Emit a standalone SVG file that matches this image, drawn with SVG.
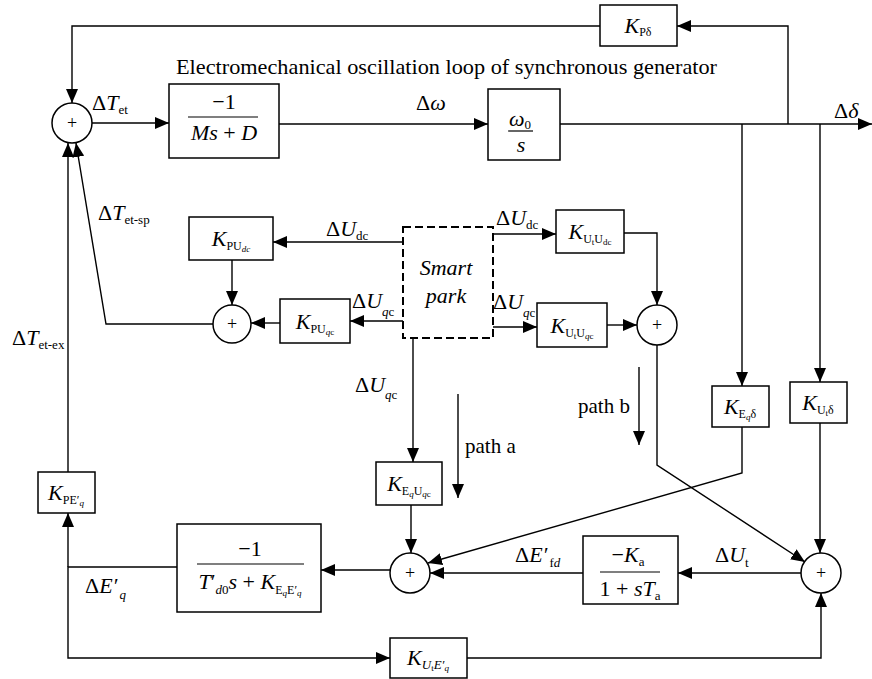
<svg xmlns="http://www.w3.org/2000/svg" width="872" height="679" viewBox="0 0 872 679">
<style>
text{font-family:"Liberation Serif","Times New Roman",serif;fill:#000;font-size:22px}
.i{font-style:italic}
.sb{font-size:13px}
.ks{font-size:12px}
.kss{font-size:9px}
.tt{font-size:21px}
.box{fill:#fff;stroke:#000;stroke-width:1.5}
.dash{fill:#fff;stroke:#000;stroke-width:2;stroke-dasharray:8 4}
.sum{fill:#fff;stroke:#000;stroke-width:1.5}
.ln{fill:none;stroke:#000;stroke-width:1.4}
.fl{stroke:#000;stroke-width:1.2}
.ar{marker-end:url(#ah)}
.plus{font-size:18px}
</style>
<defs>
<marker id="ah" viewBox="0 0 14 12" refX="14" refY="6" markerWidth="14" markerHeight="12" orient="auto" markerUnits="userSpaceOnUse"><path d="M0,0 L14,6 L0,12 z" fill="#000"/></marker>
</defs>

<g id="connectors">
<path class="ln ar" d="M92,123 H169"/>
<path class="ln ar" d="M279,124 H488"/>
<path class="ln ar" d="M560,124 H872"/>
<path class="ln ar" d="M788,124 V26 H677"/>
<path class="ln ar" d="M600,26 H72 V103"/>
<path class="ln ar" d="M742,124 V386"/>
<path class="ln ar" d="M820,124 V382"/>
<path class="ln ar" d="M403,242 H273"/>
<path class="ln ar" d="M232,260 V305"/>
<path class="ln ar" d="M403,321 H350"/>
<path class="ln ar" d="M280,323 H251"/>
<path class="ln ar" d="M213,324 H106 L76,143"/>
<path class="ln ar" d="M68,472 V143"/>
<path class="ln ar" d="M493,234 H556"/>
<path class="ln ar" d="M624,233 H657 V305"/>
<path class="ln ar" d="M493,327 H537"/>
<path class="ln ar" d="M607,325 H637"/>
<path class="ln ar" d="M657,345 V465 L805,562"/>
<path class="ln ar" d="M742,427 V473 L428,563"/>
<path class="ln ar" d="M413,338 V462"/>
<path class="ln ar" d="M411,505 V553"/>
<path class="ln ar" d="M458,394 V498"/>
<path class="ln ar" d="M639,367 V445"/>
<path class="ln ar" d="M820,423 V553"/>
<path class="ln ar" d="M801,573 H678"/>
<path class="ln ar" d="M583,573 H430"/>
<path class="ln ar" d="M390,570 H321"/>
<path class="ln ar" d="M177,567 H68 V658 H390"/>
<path class="ln ar" d="M68,567 V513"/>
<path class="ln ar" d="M467,658 H821 V593"/>
</g>

<g id="labels">
<text class="tt" x="176" y="74" textLength="541" lengthAdjust="spacingAndGlyphs">Electromechanical oscillation loop of synchronous generator</text>
<text x="92" y="110">Δ<tspan class="i">T</tspan><tspan class="sb" dy="4">et</tspan></text>
<text x="416" y="110">Δ<tspan class="i">ω</tspan></text>
<text x="834" y="118">Δ<tspan class="i">δ</tspan></text>
<text x="98" y="220">Δ<tspan class="i">T</tspan><tspan class="sb" dy="4">et-sp</tspan></text>
<text x="12" y="345">Δ<tspan class="i">T</tspan><tspan class="sb" dy="4">et-ex</tspan></text>
<text x="326" y="236">Δ<tspan class="i">U</tspan><tspan class="sb" dy="4">dc</tspan></text>
<text x="352" y="308">Δ<tspan class="i">U</tspan><tspan class="sb" dy="8"><tspan class="i">q</tspan>c</tspan></text>
<text x="496" y="225">Δ<tspan class="i">U</tspan><tspan class="sb" dy="4">dc</tspan></text>
<text x="493" y="309">Δ<tspan class="i">U</tspan><tspan class="sb" dy="8"><tspan class="i">q</tspan>c</tspan></text>
<text x="355" y="392">Δ<tspan class="i">U</tspan><tspan class="sb" dy="7"><tspan class="i">q</tspan>c</tspan></text>
<text class="tt" x="465" y="453">path a</text>
<text class="tt" x="578" y="413">path b</text>
<text x="515" y="562">Δ<tspan class="i">E′</tspan><tspan class="sb" dx="2" dy="5">f<tspan class="i">d</tspan></tspan></text>
<text x="715" y="562">Δ<tspan class="i">U</tspan><tspan class="sb" dy="5">t</tspan></text>
<text x="85" y="593">Δ<tspan class="i">E′</tspan><tspan class="sb i" dx="2" dy="6">q</tspan></text>
</g>

<g id="sum1"><circle class="sum" cx="72" cy="123" r="20"/><text class="plus" x="72" y="129" text-anchor="middle">+</text></g>

<g id="block-ms">
<rect class="box" x="169" y="84" width="110" height="74"/>
<text x="224" y="109" text-anchor="middle">−1</text>
<line class="fl" x1="188" y1="117" x2="258" y2="117"/>
<text x="224" y="140" text-anchor="middle"><tspan class="i">Ms</tspan> + <tspan class="i">D</tspan></text>
</g>

<g id="block-w0s">
<rect class="box" x="488" y="89" width="72" height="71"/>
<text x="520" y="126" text-anchor="middle"><tspan class="i">ω</tspan><tspan class="sb" dy="3">0</tspan></text>
<line class="fl" x1="508" y1="131" x2="533" y2="131"/>
<text class="i" x="521" y="152" text-anchor="middle">s</text>
</g>

<g id="k-pdelta">
<rect class="box" x="600" y="5" width="77" height="41"/>
<text x="638" y="33" text-anchor="middle"><tspan class="i">K</tspan><tspan class="ks" dy="3">Pδ</tspan></text>
</g>

<g id="smart-park">
<rect class="dash" x="403" y="227" width="90" height="111"/>
<text class="i" x="446" y="275" text-anchor="middle" font-size="21">Smart</text>
<text class="i" x="446" y="303" text-anchor="middle" font-size="21">park</text>
</g>

<g id="k-pudc">
<rect class="box" x="189" y="217" width="84" height="43"/>
<text x="231" y="246" text-anchor="middle"><tspan class="i">K</tspan><tspan class="ks" dy="4">PU</tspan><tspan class="kss i" dy="2">dc</tspan></text>
</g>

<g id="k-puqc">
<rect class="box" x="280" y="299" width="70" height="44"/>
<text x="315" y="329" text-anchor="middle"><tspan class="i">K</tspan><tspan class="ks" dy="4">PU</tspan><tspan class="kss" dy="2"><tspan class="i">q</tspan>c</tspan></text>
</g>

<g id="sum2"><circle class="sum" cx="232" cy="324" r="19"/><text class="plus" x="232" y="330" text-anchor="middle">+</text></g>

<g id="k-utudc">
<rect class="box" x="556" y="210" width="68" height="43"/>
<text x="590" y="239" text-anchor="middle"><tspan class="i">K</tspan><tspan class="ks" dy="4">U</tspan><tspan class="kss" dy="2">t</tspan><tspan class="ks" dy="-2">U</tspan><tspan class="kss" dy="2">dc</tspan></text>
</g>

<g id="k-utuqc">
<rect class="box" x="537" y="303" width="70" height="44"/>
<text x="572" y="333" text-anchor="middle"><tspan class="i">K</tspan><tspan class="ks" dy="4">U</tspan><tspan class="kss" dy="2">t</tspan><tspan class="ks" dy="-2">U</tspan><tspan class="kss" dy="2"><tspan class="i">q</tspan>c</tspan></text>
</g>

<g id="sum3"><circle class="sum" cx="657" cy="325" r="20"/><text class="plus" x="657" y="331" text-anchor="middle">+</text></g>

<g id="k-eqdelta">
<rect class="box" x="712" y="386" width="57" height="41"/>
<text x="740" y="414" text-anchor="middle"><tspan class="i">K</tspan><tspan class="ks" dy="4">E</tspan><tspan class="kss i" dy="2">q</tspan><tspan class="ks" dy="-2">δ</tspan></text>
</g>

<g id="k-utdelta">
<rect class="box" x="790" y="382" width="57" height="41"/>
<text x="818" y="410" text-anchor="middle"><tspan class="i">K</tspan><tspan class="ks" dy="4">U</tspan><tspan class="kss" dy="2">t</tspan><tspan class="ks" dy="-2">δ</tspan></text>
</g>

<g id="k-equqc">
<rect class="box" x="376" y="462" width="66" height="43"/>
<text x="409" y="491" text-anchor="middle"><tspan class="i">K</tspan><tspan class="ks" dy="4">E</tspan><tspan class="kss i" dy="2">q</tspan><tspan class="ks" dy="-2">U</tspan><tspan class="kss" dy="2"><tspan class="i">q</tspan>c</tspan></text>
</g>

<g id="k-peq">
<rect class="box" x="38" y="472" width="57" height="41"/>
<text x="66" y="500" text-anchor="middle"><tspan class="i">K</tspan><tspan class="ks" dy="4">PE′</tspan><tspan class="kss i" dy="2">q</tspan></text>
</g>

<g id="block-td0">
<rect class="box" x="177" y="524" width="144" height="88"/>
<text x="250" y="556" text-anchor="middle">−1</text>
<line class="fl" x1="197" y1="564" x2="304" y2="564"/>
<text x="250" y="589" text-anchor="middle"><tspan class="i">T</tspan>′<tspan class="sb" dy="5"><tspan class="i">d</tspan>0</tspan><tspan class="i" dy="-5">s</tspan> + <tspan class="i">K</tspan><tspan class="ks" dy="5">E</tspan><tspan class="kss i" dy="2">q</tspan><tspan class="ks" dy="-2">E′</tspan><tspan class="kss i" dy="2">q</tspan></text>
</g>

<g id="sum4"><circle class="sum" cx="410" cy="573" r="20"/><text class="plus" x="410" y="579" text-anchor="middle">+</text></g>

<g id="block-ka">
<rect class="box" x="583" y="536" width="95" height="68"/>
<text x="628" y="562" text-anchor="middle">−<tspan class="i">K</tspan><tspan class="sb" dy="4">a</tspan></text>
<line class="fl" x1="600" y1="572" x2="660" y2="572"/>
<text x="630" y="596" text-anchor="middle">1 + <tspan class="i">sT</tspan><tspan class="sb" dy="4">a</tspan></text>
</g>

<g id="sum5"><circle class="sum" cx="821" cy="573" r="20"/><text class="plus" x="821" y="579" text-anchor="middle">+</text></g>

<g id="k-uteq">
<rect class="box" x="390" y="638" width="77" height="40"/>
<text x="428" y="665" text-anchor="middle"><tspan class="i">K</tspan><tspan class="sb i" dy="4">U</tspan><tspan class="kss" dy="2">t</tspan><tspan class="sb i" dy="-2">E′</tspan><tspan class="kss i" dy="2">q</tspan></text>
</g>
</svg>
